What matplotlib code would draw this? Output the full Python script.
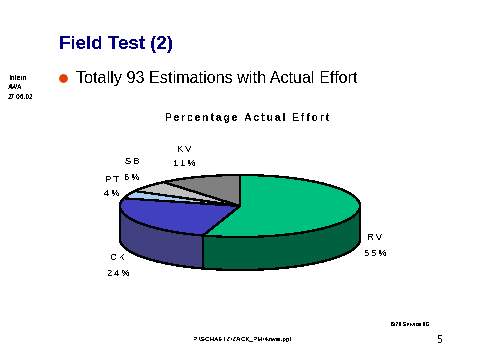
import numpy as np
import matplotlib
matplotlib.use('Agg')
import matplotlib.pyplot as plt

plt.rcParams['font.family'] = ['Liberation Sans', 'DejaVu Sans']
plt.rcParams['text.antialiased'] = False

# Pie data, clockwise from 12 o'clock
labels = ['RV', 'CK', 'PT', 'SB', 'KV']
values = [55, 24, 4, 6, 11]
top_colors = ['#00C080', '#4040C0', '#A6CAF0', '#C0C0C0', '#808080']
side_colors = ['#006040', '#404080', '#536578', '#606060', '#404040']

# Where the labels go (x, y of the name, y of the percentage)
label_pos = [(375, 238, 254), (118, 257, 273), (112, 179, 194), (132, 161, 177), (184, 149, 164)]

cx, cy, rx, ry, depth = 240, 206, 120, 31, 33


def arc(a1, a2):
    # points on the top ellipse between two angles (degrees)
    t = np.radians(np.linspace(a1, a2, 120))
    return cx + rx * np.cos(t), cy - ry * np.sin(t)


def spaced(s):
    # the chart labels are letter-spaced in the slide
    return '\u2009'.join(s)


fig = plt.figure(figsize=(4.79, 3.59), dpi=100)
ax = fig.add_axes([0, 0, 1, 1])
ax.set_xlim(0, 479)
ax.set_ylim(359, 0)
ax.axis('off')

# Angles of the slice borders
edges = 90 - 3.6 * np.cumsum([0] + values)

# Walls first: only the front half of the pie shows one
for i in range(len(values)):
    a1 = max(edges[i + 1], -180)
    a2 = min(edges[i], 0)
    if a1 >= a2:
        continue
    x, y = arc(a2, a1)
    xs = np.concatenate([x, x[::-1]])
    ys = np.concatenate([y, y[::-1] + depth])
    ax.fill(xs, ys, facecolor=side_colors[i], edgecolor='black', lw=0.9, antialiased=False)

# Top of the pie
for i in range(len(values)):
    x, y = arc(edges[i], edges[i + 1])
    ax.fill(np.r_[cx, x], np.r_[cy, y], facecolor=top_colors[i], edgecolor='black', lw=0.9,
            antialiased=False)

for name, v, (lx, ly1, ly2) in zip(labels, values, label_pos):
    ax.text(lx, ly1, spaced(name), fontsize=6.8, ha='center', va='center')
    ax.text(lx, ly2, spaced('%d%%' % v), fontsize=6.8, ha='center', va='center')

# Slide text
ax.text(59, 49, 'Field Test (2)', fontsize=13.5, fontweight='bold', color='#000080')
ax.plot([63.5], [77.5], 'o', ms=6.3, color='#E04000', mec='none')
ax.text(76, 83, 'Totally 93 Estimations with Actual Effort', fontsize=11.6, color='black')
ax.text(247, 118, spaced('Percentage Actual Effort'), fontsize=7.3, fontweight='bold',
        ha='center', va='center')

ax.text(9, 78.5, 'Intern', fontsize=4.8, va='center')
ax.text(8, 87.5, 'AWA', fontsize=4.8, va='center')
ax.text(8, 97.5, '27.06.02', fontsize=4.8, va='center')
ax.text(391, 325, '6/26 Service 6G', fontsize=3.9, va='center')
ax.text(194, 340, 'P:\\SCHAETZ\\ZACK_PM\\4zwei.ppt', fontsize=4.6, va='center')
ax.text(437, 340, '5', fontsize=7, va='center')

fig.savefig('out.png', dpi=100)
